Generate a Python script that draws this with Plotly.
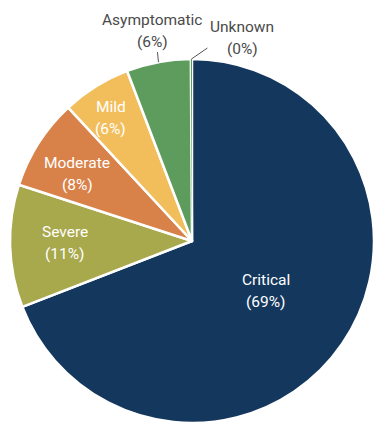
import math
import plotly.graph_objects as go

# Share of patients by disease severity (percent)
categories = ["Critical", "Severe", "Moderate", "Mild", "Asymptomatic", "Unknown"]
shares = [69.1, 10.9, 8.1, 6.1, 5.7, 0.1]
colors = ["#14375d", "#a8a84c", "#d8824a", "#f2be5c", "#5e9c5e", "#5e9c5e"]

# Label placement: inside labels sit along the slice bisector at a fraction
# of the radius; outside labels are offset (px) from the rim with a leader line.
inside_radius = {"Critical": 0.49, "Severe": 0.70, "Moderate": 0.73, "Mild": 0.81}
inside_turn = {"Critical": 0.0, "Severe": 0.5, "Moderate": -2.4, "Mild": -1.5}
outside_text_offset = {"Asymptomatic": (-6, -31), "Unknown": (51, -21)}
outside_line_offset = {"Asymptomatic": (-1, -10), "Unknown": (16, -11)}

W, H = 374, 425
M = dict(l=10, r=0, t=59, b=2)
plot_w = W - M["l"] - M["r"]
plot_h = H - M["t"] - M["b"]
radius = min(plot_w, plot_h) / 2
cx = M["l"] + plot_w / 2
cy = M["t"] + plot_h / 2

FONT = "Roboto, Arial, sans-serif"
FONT_SIZE = 15.5
LINE_GAP = 11


def to_paper(px, py):
    return (px - M["l"]) / plot_w, 1 - (py - M["t"]) / plot_h


def rim_point(angle_deg, r):
    a = math.radians(angle_deg)
    return cx + r * math.sin(a), cy - r * math.cos(a)


fig = go.Figure(
    go.Pie(
        labels=categories,
        values=shares,
        sort=False,
        direction="clockwise",
        rotation=0,
        marker=dict(colors=colors,
                    line=dict(color="#ffffff", width=[2.5, 2.5, 2.5, 2.5, 2.5, 0])),
        textinfo="none",
        hoverinfo="label+percent",
        showlegend=False,
    )
)

total = sum(shares)
cum = 0.0
annotations = []
shapes = []
for name, val in zip(categories, shares):
    mid = (cum + val / 2) / total * 360
    cum += val
    pct = f"({round(val / total * 100):.0f}%)"
    if name in inside_radius:
        px, py = rim_point(mid + inside_turn[name], radius * inside_radius[name])
        color = "#ffffff"
    else:
        ex, ey = rim_point(mid, radius)
        dx, dy = outside_text_offset[name]
        lx, ly = outside_line_offset[name]
        px, py = ex + dx, ey + dy
        x0, y0 = to_paper(ex, ey)
        x1, y1 = to_paper(ex + lx, ey + ly)
        shapes.append(dict(type="line", xref="paper", yref="paper",
                           x0=x0, y0=y0, x1=x1, y1=y1,
                           line=dict(color="#555555", width=1)))
        color = "#4a4a4a"
    xp, yp = to_paper(px, py)
    for txt, shift in ((name, LINE_GAP), (pct, -LINE_GAP)):
        annotations.append(dict(
            x=xp, y=yp, xref="paper", yref="paper", text=txt, showarrow=False,
            xanchor="center", yanchor="middle", yshift=shift,
            font=dict(family=FONT, size=FONT_SIZE, color=color),
        ))

fig.update_layout(
    width=W,
    height=H,
    margin=M,
    paper_bgcolor="#ffffff",
    plot_bgcolor="#ffffff",
    annotations=annotations,
    shapes=shapes,
)

fig.write_html("out.html")
